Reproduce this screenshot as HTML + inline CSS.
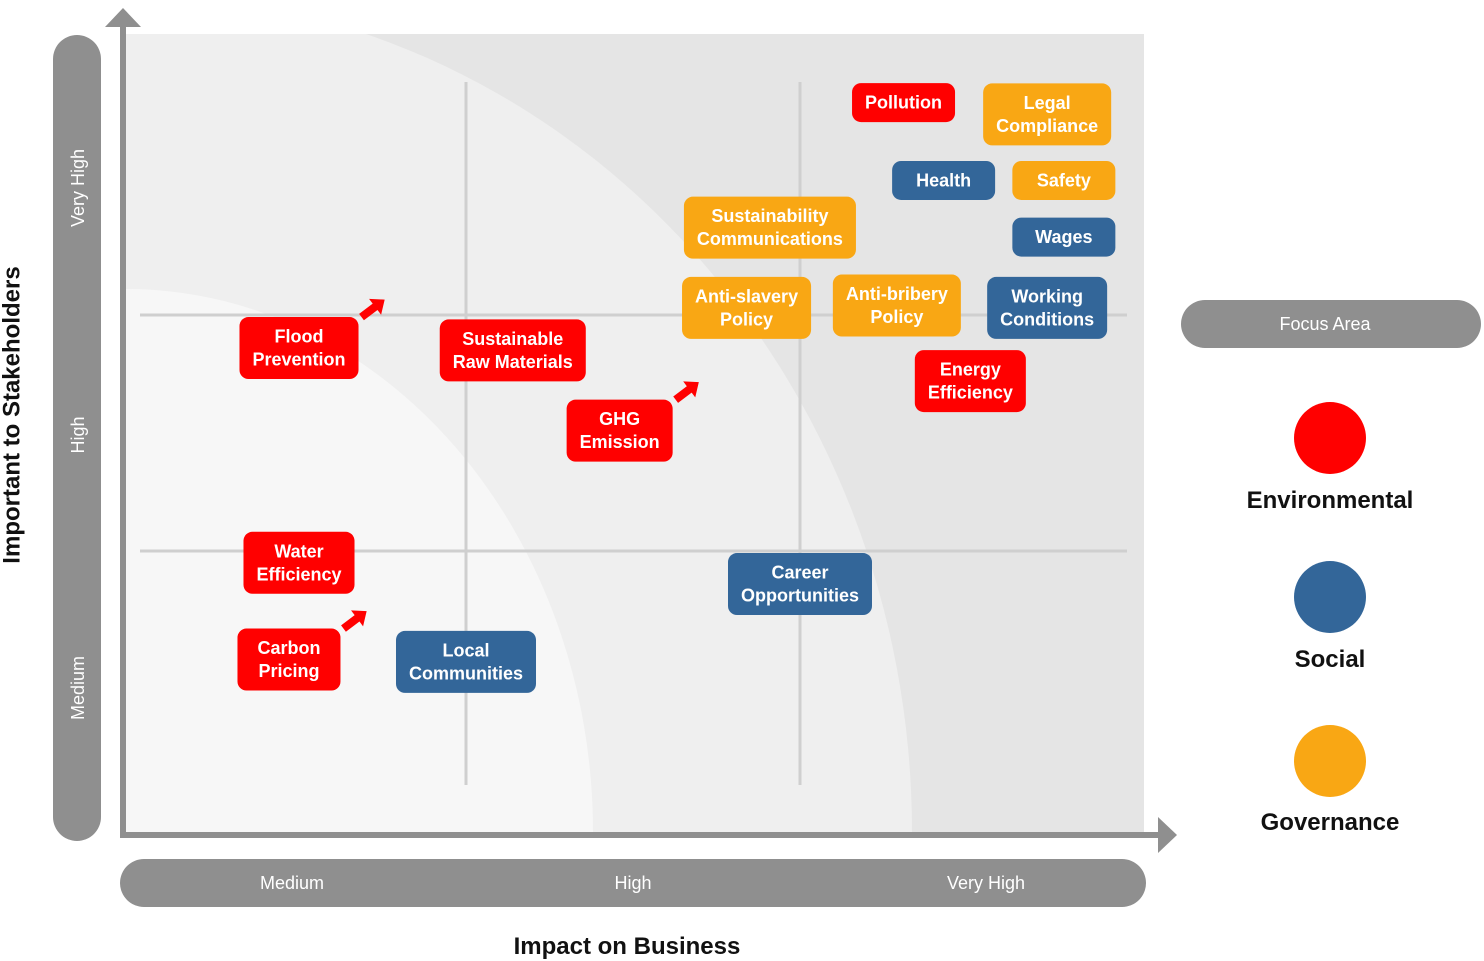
<!DOCTYPE html>
<html><head><meta charset="utf-8"><style>
html,body{margin:0;padding:0;background:#fff;}
svg{display:block;font-family:"Liberation Sans",sans-serif;}
</style></head><body>
<svg id="chart" width="1484" height="961" viewBox="0 0 1484 961" xmlns="http://www.w3.org/2000/svg">
<defs><clipPath id="pc"><rect x="126" y="34" width="1018" height="798"/></clipPath></defs>
<rect x="126" y="34" width="1018" height="798" fill="#e5e5e5"/>
<path d="M126,832 L126,-6 A786,838 0 0 1 912,832 Z" fill="#efefef" clip-path="url(#pc)"/>
<path d="M126,832 L126,289 A467,543 0 0 1 593,832 Z" fill="#f7f7f7"/>
<g id="grid"></g>
<rect x="53" y="35" width="48" height="806" rx="24" fill="#8f8f8f"/>
<rect x="120" y="859" width="1026" height="48" rx="24" fill="#8f8f8f"/>
<g id="ticks" fill="#fff" font-size="18"></g>
<line x1="123" y1="836" x2="123" y2="24" stroke="#8f8f8f" stroke-width="6"/>
<polygon points="105,27 123,8 141,27" fill="#8f8f8f"/>
<line x1="120" y1="835" x2="1160" y2="835" stroke="#8f8f8f" stroke-width="6"/>
<polygon points="1158,817 1177,835 1158,853" fill="#8f8f8f"/>
<text x="12" y="415" transform="rotate(-90 12 415)" text-anchor="middle" dominant-baseline="central" font-size="24" font-weight="bold" fill="#111">Important to Stakeholders</text>
<text x="627" y="954" text-anchor="middle" font-size="24" font-weight="bold" fill="#111">Impact on Business</text>
<g id="marks"></g>
<g id="arrows"></g>
<rect x="1181" y="300" width="300" height="48" rx="24" fill="#8f8f8f"/>
<text x="1325" y="330" text-anchor="middle" font-size="18" fill="#fff">Focus Area</text>
<g id="legend"></g>
</svg>
<script>
const categories = ["Environmental","Social","Governance"];
const catColors = ["#ff0000","#336699","#f9a714"];
const itemLabels = [["Pollution"],["Legal","Compliance"],["Health"],["Safety"],["Sustainability","Communications"],["Wages"],["Anti-slavery","Policy"],["Anti-bribery","Policy"],["Working","Conditions"],["Energy","Efficiency"],["Flood","Prevention"],["Sustainable","Raw Materials"],["GHG","Emission"],["Water","Efficiency"],["Career","Opportunities"],["Carbon","Pricing"],["Local","Communities"]];
const itemCat = [0,2,1,2,2,1,2,2,1,0,0,0,0,0,1,0,1];
const impactValues = [2.31,2.74,2.43,2.79,1.91,2.79,1.84,2.29,2.74,2.51,0.50,1.14,1.46,0.50,2.00,0.47,1.00];
const stakeValues = [2.90,2.85,2.57,2.57,2.37,2.33,2.03,2.04,2.03,1.72,1.86,1.85,1.51,0.95,0.86,0.54,0.53];
const risingItems = [10,12,15];
const xTicks = ["Medium","High","Very High"];
const yTicks = ["Medium","High","Very High"];
const xGrid = [1,2];
const yGrid = [1,2];

const NS="http://www.w3.org/2000/svg";
const X=v=>132+v*334;
const Y=v=>787-v*236;
function mk(t,a,p){const e=document.createElementNS(NS,t);for(const k in a)e.setAttribute(k,a[k]);p.appendChild(e);return e;}
const grid=document.getElementById('grid');
xGrid.forEach(g=>{const l=mk('line',{x1:X(g),x2:X(g),y1:82,y2:785,stroke:'#cfcfcf','stroke-width':3},grid);

});
yGrid.forEach(g=>{const l=mk('line',{x1:140,x2:1127,y1:Y(g),y2:Y(g),stroke:'#cfcfcf','stroke-width':3},grid);

});
const ticks=document.getElementById('ticks');
xTicks.forEach((t,i)=>{const cx=[292,633,986][i];const e=mk('text',{x:cx,y:889,'text-anchor':'middle'},ticks);e.textContent=t;

});
yTicks.forEach((t,i)=>{const cy=[688,435,188][i];const e=mk('text',{x:78,y:cy,'text-anchor':'middle','dominant-baseline':'central',transform:`rotate(-90 78 ${cy})`},ticks);e.textContent=t;

});
const marks=document.getElementById('marks');
const cv=document.createElement('canvas').getContext('2d');cv.font='bold 18px "Liberation Sans"';
function boxW(lines){return Math.max(103,Math.max(...lines.map(s=>cv.measureText(s).width))+26);}
itemLabels.forEach((lines,i)=>{
  const cx=X(impactValues[i]),cy=Y(stakeValues[i]);
  const w=boxW(lines);
  const h=lines.length===1?39:62;
  const g=mk('g',{},marks);
  
  
  mk('rect',{x:cx-w/2,y:cy-h/2,width:w,height:h,rx:9,fill:catColors[itemCat[i]]},g);
  lines.forEach((s,j)=>{const t=mk('text',{x:cx,y:cy+(j-(lines.length-1)/2)*23+6,'text-anchor':'middle',fill:'#fff','font-size':18,'font-weight':'bold'},g);t.textContent=s;});
});
const arrows=document.getElementById('arrows');
risingItems.forEach(i=>{
  const cx=X(impactValues[i]),cy=Y(stakeValues[i]);
  const lines=itemLabels[i];const w=boxW(lines);const h=lines.length===1?39:62;
  const ax=cx+w/2+3,ay=cy-h/2;
  const p=mk('polygon',{points:'0,-4 17,-4 17,-10 29,0 17,10 17,4 0,4',fill:'#ff0000',transform:`translate(${ax},${ay}) rotate(-37)`},arrows);
  
  
});
const legend=document.getElementById('legend');
categories.forEach((c,i)=>{
  const cy=[438,597,761][i],ty=[508,667,830][i];
  const ci=mk('circle',{cx:1330,cy:cy,r:36,fill:catColors[i]},legend);
  
  
  const t=mk('text',{x:1330,y:ty,'text-anchor':'middle','font-size':24,'font-weight':'bold',fill:'#111'},legend);t.textContent=c;
  
  
});
</script>
</body></html>
